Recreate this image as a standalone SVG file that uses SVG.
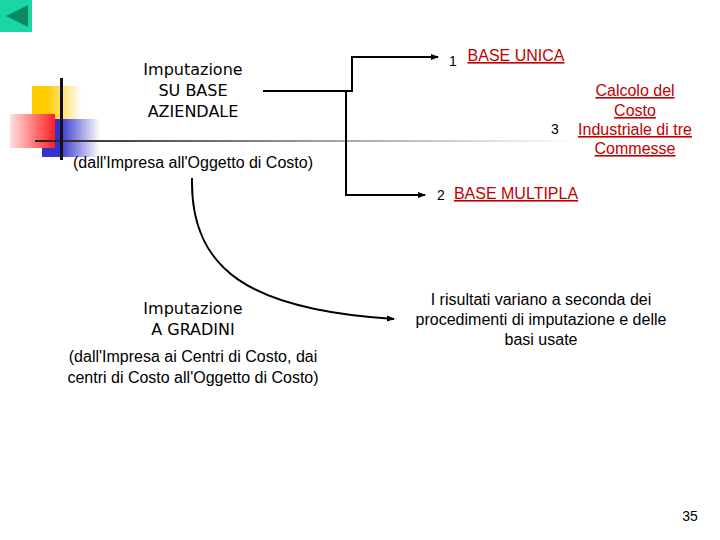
<svg xmlns="http://www.w3.org/2000/svg" width="720" height="540" viewBox="0 0 720 540">
<defs>
<marker id="ah" markerWidth="8" markerHeight="8" refX="7" refY="4" orient="auto" markerUnits="userSpaceOnUse"><path d="M0,1 L8,4 L0,7 Z" fill="#000"/></marker>
<linearGradient id="gl" x1="0" x2="1"><stop offset="0" stop-color="#222"/><stop offset="0.5" stop-color="#999"/><stop offset="1" stop-color="#fff"/></linearGradient>
<linearGradient id="gy" x1="0" x2="1"><stop offset="0.3" stop-color="#ffcc00"/><stop offset="1" stop-color="#fff"/></linearGradient>
<linearGradient id="gb" x1="0" x2="1"><stop offset="0.3" stop-color="#3333cc"/><stop offset="1" stop-color="#fff"/></linearGradient>
<linearGradient id="gr" x1="1" x2="0"><stop offset="0" stop-color="#ff2020"/><stop offset="1" stop-color="#ffe0e0"/></linearGradient>
</defs>
<style>
.h{font-family:"DejaVu Sans",sans-serif;font-size:16px;text-anchor:middle}
.t{font-family:"Liberation Sans",Arial,sans-serif;font-size:16px}
.l{font-family:"Liberation Sans",Arial,sans-serif;font-size:16px;fill:#c00000;text-decoration:underline;text-anchor:middle}
.n{font-family:"Liberation Sans",Arial,sans-serif;font-size:14px}
.c{fill:none;stroke:#000;stroke-width:2}
</style>
<rect x="0" y="0" width="32" height="32" fill="#1ad6a6"/>
<path d="M6,16 L28,5 L28,27 Z" fill="#0a8a60"/>
<g id="logo">
<rect x="32" y="86" width="50" height="34" fill="url(#gy)"/>
<rect x="42" y="119" width="58" height="38" fill="url(#gb)"/>
<rect x="10" y="114" width="45" height="34" fill="url(#gr)"/>
<rect x="35" y="140" width="545" height="2" fill="url(#gl)"/>
<rect x="60" y="78" width="3" height="82" fill="#111"/>
</g>
<g id="n-aziendale">
<text class="h" x="193" y="75">Imputazione</text>
<text class="h" x="193" y="96">SU BASE</text>
<text class="h" x="193" y="117">AZIENDALE</text>
<text class="t" x="193" y="168" text-anchor="middle">(dall'Impresa all'Oggetto di Costo)</text>
</g>
<g id="n-gradini">
<text class="h" x="193" y="314">Imputazione</text>
<text class="h" x="193" y="335">A GRADINI</text>
<text class="t" x="193" y="362" text-anchor="middle">(dall'Impresa ai Centri di Costo, dai</text>
<text class="t" x="193" y="383" text-anchor="middle">centri di Costo all'Oggetto di Costo)</text>
</g>
<g id="n-unica"><text class="n" x="449" y="66">1</text><text class="l" x="516" y="61">BASE UNICA</text></g>
<g id="n-multipla"><text class="n" x="437" y="200">2</text><text class="l" x="516" y="199">BASE MULTIPLA</text></g>
<g id="n-calcolo"><text class="n" x="551" y="134">3</text>
<text class="l" x="635" y="96">Calcolo del</text><text class="l" x="635" y="116">Costo</text><text class="l" x="635" y="135">Industriale di tre</text><text class="l" x="635" y="154">Commesse</text></g>
<g id="n-risultati">
<text class="t" x="541" y="305" text-anchor="middle">I risultati variano a seconda dei</text>
<text class="t" x="541" y="325" text-anchor="middle">procedimenti di imputazione e delle</text>
<text class="t" x="541" y="345" text-anchor="middle">basi usate</text>
</g>
<text class="n" x="690" y="521" text-anchor="middle">35</text>
<g id="connectors">
<path class="c" d="M263,91 H352 V57 H438" marker-end="url(#ah)"/>
<path class="c" d="M346,91 V195 H425" marker-end="url(#ah)"/>
<path class="c" d="M192,178 C190,270 250,310 394,319" marker-end="url(#ah)"/>
</g>
</svg>
